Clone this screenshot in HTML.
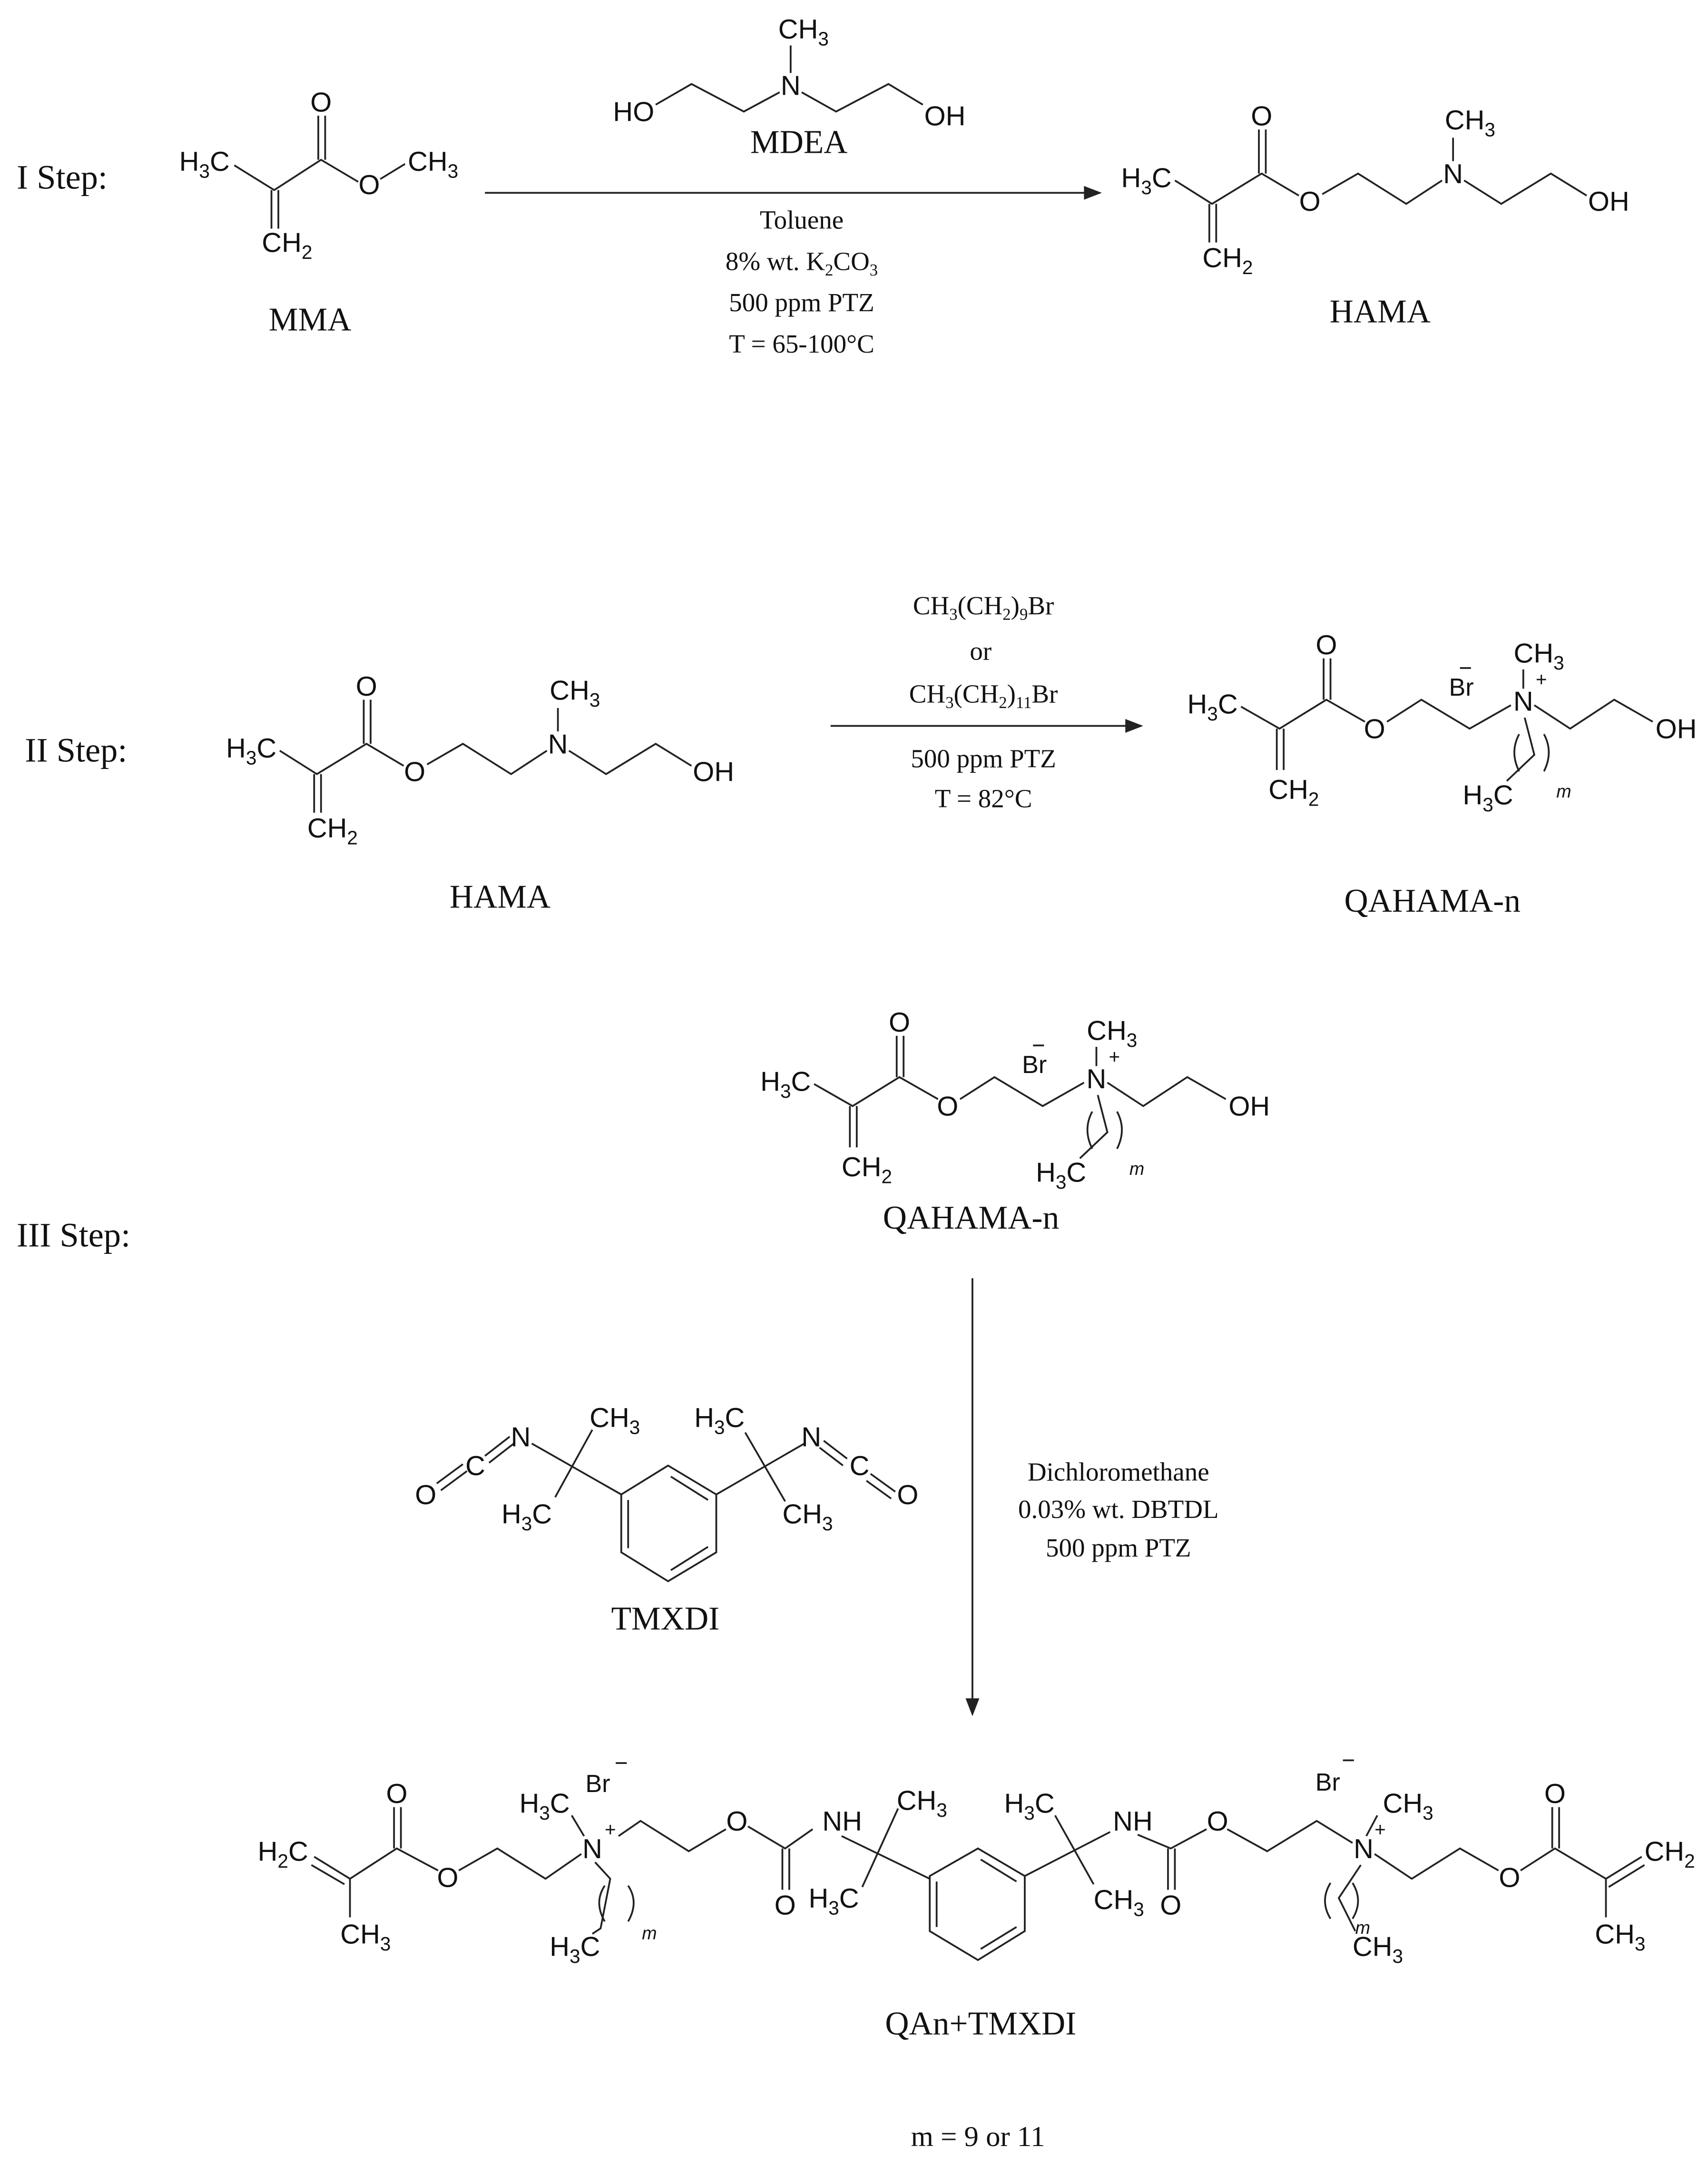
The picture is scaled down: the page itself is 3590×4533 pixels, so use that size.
<!DOCTYPE html>
<html><head><meta charset="utf-8"><style>
html,body{margin:0;padding:0;background:#fff;}
svg{display:block;}
.a{font-family:"Liberation Sans",Arial,sans-serif;font-size:20px;fill:#111;}
.s{font-family:"Liberation Serif","Times New Roman",serif;fill:#111;}
.m{font-size:13px;font-style:italic;}
.br{font-size:18px;}
.pl{font-size:14px;}
line,polyline,path{stroke:#222;stroke-width:1.3;fill:none;}
path.ah{fill:#222;stroke:none;}
</style></head><body>
<svg width="3590" height="4533" viewBox="0 0 1240 1566" xmlns="http://www.w3.org/2000/svg">
<rect width="1240" height="1566" fill="#fff"/>

<!-- ===== STEP I ===== -->
<text class="s" x="12" y="137" font-size="25">I Step:</text>
<g>
<text class="a" x="130" y="124">H<tspan font-size="14" dy="5">3</tspan><tspan dy="-5">C</tspan></text>
<polyline points="170,120 199,138 233,116 260,132"/>
<line x1="231" y1="116" x2="231" y2="84"/><line x1="236" y1="116" x2="236" y2="84"/>
<text class="a" x="233" y="81" text-anchor="middle">O</text>
<text class="a" x="268" y="141" text-anchor="middle">O</text>
<line x1="276" y1="130" x2="294" y2="119"/>
<text class="a" x="296" y="124">CH<tspan font-size="14" dy="5">3</tspan></text>
<line x1="197" y1="138" x2="197" y2="166"/><line x1="202" y1="138" x2="202" y2="166"/>
<text class="a" x="190" y="183">CH<tspan font-size="14" dy="5">2</tspan></text>
<text class="s" x="225" y="240" font-size="24" text-anchor="middle">MMA</text>
</g>
<g>
<text class="a" x="445" y="88">HO</text>
<polyline points="476,76 502,61 540,81 566,67"/>
<text class="a" x="574" y="69" text-anchor="middle">N</text>
<line x1="574" y1="53" x2="574" y2="33"/>
<text class="a" x="565" y="28">CH<tspan font-size="14" dy="5">3</tspan></text>
<polyline points="582,67 607,81 645,61 670,76"/>
<text class="a" x="671" y="91">OH</text>
<text class="s" x="580" y="111" font-size="24" text-anchor="middle">MDEA</text>
</g>
<line x1="352" y1="140" x2="792" y2="140"/>
<path class="ah" d="M800,140 L787,135 L787,145 Z"/>
<g class="s" font-size="19" text-anchor="middle">
<text x="582" y="166">Toluene</text>
<text x="582" y="196">8% wt. K<tspan font-size="12" dy="4">2</tspan><tspan dy="-4">CO</tspan><tspan font-size="12" dy="4">3</tspan></text>
<text x="582" y="226">500 ppm PTZ</text>
<text x="582" y="256">T = 65-100°C</text>
</g>
<g>
<text class="a" x="814" y="136">H<tspan font-size="14" dy="5">3</tspan><tspan dy="-5">C</tspan></text>
<polyline points="853,131 880,148 916,126 943,142"/>
<line x1="914" y1="126" x2="914" y2="94"/><line x1="919" y1="126" x2="919" y2="94"/>
<text class="a" x="916" y="91" text-anchor="middle">O</text>
<text class="a" x="951" y="153" text-anchor="middle">O</text>
<polyline points="960,141 986,126 1021,148 1047,131"/>
<text class="a" x="1055" y="133" text-anchor="middle">N</text>
<line x1="1055" y1="117" x2="1055" y2="100"/>
<text class="a" x="1049" y="94">CH<tspan font-size="14" dy="5">3</tspan></text>
<polyline points="1063,131 1090,148 1126,126 1152,142"/>
<text class="a" x="1153" y="153">OH</text>
<line x1="878" y1="148" x2="878" y2="176"/><line x1="883" y1="148" x2="883" y2="176"/>
<text class="a" x="873" y="194">CH<tspan font-size="14" dy="5">2</tspan></text>
</g>
<text class="s" x="1002" y="234" font-size="24" text-anchor="middle">HAMA</text>

<!-- ===== STEP II ===== -->
<text class="s" x="18" y="553" font-size="25">II Step:</text>
<g transform="translate(-650,414)">
<text class="a" x="814" y="136">H<tspan font-size="14" dy="5">3</tspan><tspan dy="-5">C</tspan></text>
<polyline points="853,131 880,148 916,126 943,142"/>
<line x1="914" y1="126" x2="914" y2="94"/><line x1="919" y1="126" x2="919" y2="94"/>
<text class="a" x="916" y="91" text-anchor="middle">O</text>
<text class="a" x="951" y="153" text-anchor="middle">O</text>
<polyline points="960,141 986,126 1021,148 1047,131"/>
<text class="a" x="1055" y="133" text-anchor="middle">N</text>
<line x1="1055" y1="117" x2="1055" y2="100"/>
<text class="a" x="1049" y="94">CH<tspan font-size="14" dy="5">3</tspan></text>
<polyline points="1063,131 1090,148 1126,126 1152,142"/>
<text class="a" x="1153" y="153">OH</text>
<line x1="878" y1="148" x2="878" y2="176"/><line x1="883" y1="148" x2="883" y2="176"/>
<text class="a" x="873" y="194">CH<tspan font-size="14" dy="5">2</tspan></text>
</g>
<text class="s" x="363" y="659" font-size="24" text-anchor="middle">HAMA</text>

<g class="s" font-size="19" text-anchor="middle">
<text x="714" y="446">CH<tspan font-size="12" dy="4">3</tspan><tspan dy="-4">(CH</tspan><tspan font-size="12" dy="4">2</tspan><tspan dy="-4">)</tspan><tspan font-size="12" dy="4">9</tspan><tspan dy="-4">Br</tspan></text>
<text x="712" y="479">or</text>
<text x="714" y="510">CH<tspan font-size="12" dy="4">3</tspan><tspan dy="-4">(CH</tspan><tspan font-size="12" dy="4">2</tspan><tspan dy="-4">)</tspan><tspan font-size="12" dy="4">11</tspan><tspan dy="-4">Br</tspan></text>
<text x="714" y="557">500 ppm PTZ</text>
<text x="714" y="586">T = 82°C</text>
</g>
<line x1="603" y1="527" x2="822" y2="527"/>
<path class="ah" d="M830,527 L817,522 L817,532 Z"/>

<g transform="translate(310,-274)">
<text class="a" x="552" y="792">H<tspan font-size="14" dy="5">3</tspan><tspan dy="-5">C</tspan></text>
<polyline points="591,787 619,803 653,782 681,798"/>
<line x1="651" y1="782" x2="651" y2="752"/><line x1="656" y1="782" x2="656" y2="752"/>
<text class="a" x="653" y="749" text-anchor="middle">O</text>
<text class="a" x="688" y="810" text-anchor="middle">O</text>
<polyline points="697,798 722,782 757,803 787,786"/>
<text class="a" x="796" y="790" text-anchor="middle">N</text>
<line x1="796" y1="774" x2="796" y2="760"/>
<text class="a" x="789" y="755">CH<tspan font-size="14" dy="5">3</tspan></text>
<text class="a pl" x="805" y="772">+</text>
<text class="a br" x="742" y="779">Br</text>
<line x1="750" y1="759" x2="758" y2="759"/>
<polyline points="804,786 830,803 862,782 890,798"/>
<text class="a" x="892" y="810">OH</text>
<line x1="617" y1="803" x2="617" y2="833"/><line x1="622" y1="803" x2="622" y2="833"/>
<text class="a" x="611" y="854">CH<tspan font-size="14" dy="5">2</tspan></text>
<polyline points="797,795 804,822 784,841"/>
<path d="M793,807 Q786,820 793,834"/>
<path d="M811,807 Q818,820 811,834"/>
<text class="a m" x="820" y="853">m</text>
<text class="a" x="752" y="858">H<tspan font-size="14" dy="5">3</tspan><tspan dy="-5">C</tspan></text>
</g>
<text class="s" x="1040" y="662" font-size="24" text-anchor="middle">QAHAMA-n</text>

<!-- ===== STEP III ===== -->
<text class="s" x="12" y="905" font-size="25">III Step:</text>
<g>
<text class="a" x="552" y="792">H<tspan font-size="14" dy="5">3</tspan><tspan dy="-5">C</tspan></text>
<polyline points="591,787 619,803 653,782 681,798"/>
<line x1="651" y1="782" x2="651" y2="752"/><line x1="656" y1="782" x2="656" y2="752"/>
<text class="a" x="653" y="749" text-anchor="middle">O</text>
<text class="a" x="688" y="810" text-anchor="middle">O</text>
<polyline points="697,798 722,782 757,803 787,786"/>
<text class="a" x="796" y="790" text-anchor="middle">N</text>
<line x1="796" y1="774" x2="796" y2="760"/>
<text class="a" x="789" y="755">CH<tspan font-size="14" dy="5">3</tspan></text>
<text class="a pl" x="805" y="772">+</text>
<text class="a br" x="742" y="779">Br</text>
<line x1="750" y1="759" x2="758" y2="759"/>
<polyline points="804,786 830,803 862,782 890,798"/>
<text class="a" x="892" y="810">OH</text>
<line x1="617" y1="803" x2="617" y2="833"/><line x1="622" y1="803" x2="622" y2="833"/>
<text class="a" x="611" y="854">CH<tspan font-size="14" dy="5">2</tspan></text>
<polyline points="797,795 804,822 784,841"/>
<path d="M793,807 Q786,820 793,834"/>
<path d="M811,807 Q818,820 811,834"/>
<text class="a m" x="820" y="853">m</text>
<text class="a" x="752" y="858">H<tspan font-size="14" dy="5">3</tspan><tspan dy="-5">C</tspan></text>
</g>
<text class="s" x="705" y="892" font-size="24" text-anchor="middle">QAHAMA-n</text>

<line x1="706" y1="928" x2="706" y2="1238"/>
<path class="ah" d="M706,1246 L701,1233 L711,1233 Z"/>
<g class="s" font-size="19" text-anchor="middle">
<text x="812" y="1075">Dichloromethane</text>
<text x="812" y="1102">0.03% wt. DBTDL</text>
<text x="812" y="1130">500 ppm PTZ</text>
</g>

<!-- TMXDI -->
<g>
<text class="a" x="309" y="1092" text-anchor="middle">O</text>
<line x1="317" y1="1077" x2="336" y2="1063"/><line x1="320" y1="1082" x2="339" y2="1068"/>
<text class="a" x="345" y="1071" text-anchor="middle">C</text>
<line x1="352" y1="1057" x2="370" y2="1043"/><line x1="355" y1="1062" x2="373" y2="1048"/>
<text class="a" x="378" y="1050" text-anchor="middle">N</text>
<line x1="386" y1="1048" x2="451" y2="1085"/>
<line x1="430" y1="1038" x2="403" y2="1087"/>
<text class="a" x="428" y="1036">CH<tspan font-size="14" dy="5">3</tspan></text>
<text class="a" x="364" y="1106">H<tspan font-size="14" dy="5">3</tspan><tspan dy="-5">C</tspan></text>
<polygon points="451,1085 485,1064 520,1085 520,1127 485,1148 451,1127" fill="none" stroke="#222" stroke-width="1.3"/>
<line x1="487" y1="1072" x2="514" y2="1089"/>
<line x1="456" y1="1089" x2="456" y2="1124"/>
<line x1="514" y1="1123" x2="487" y2="1140"/>
<line x1="520" y1="1085" x2="584" y2="1048"/>
<line x1="541" y1="1040" x2="570" y2="1090"/>
<text class="a" x="504" y="1036">H<tspan font-size="14" dy="5">3</tspan><tspan dy="-5">C</tspan></text>
<text class="a" x="568" y="1106">CH<tspan font-size="14" dy="5">3</tspan></text>
<text class="a" x="589" y="1050" text-anchor="middle">N</text>
<line x1="598" y1="1046" x2="615" y2="1059"/><line x1="595" y1="1051" x2="612" y2="1064"/>
<text class="a" x="624" y="1071" text-anchor="middle">C</text>
<line x1="632" y1="1070" x2="650" y2="1083"/><line x1="629" y1="1075" x2="647" y2="1088"/>
<text class="a" x="659" y="1092" text-anchor="middle">O</text>
</g>
<text class="s" x="483" y="1183" font-size="24" text-anchor="middle">TMXDI</text>

<!-- ===== FINAL PRODUCT ===== -->
<g>
<text class="a" x="187" y="1351">H<tspan font-size="14" dy="5">2</tspan><tspan dy="-5">C</tspan></text>
<line x1="228" y1="1348" x2="254" y2="1364"/><line x1="226" y1="1354" x2="250" y2="1368"/>
<line x1="254" y1="1364" x2="254" y2="1392"/>
<text class="a" x="247" y="1411">CH<tspan font-size="14" dy="5">3</tspan></text>
<polyline points="254,1364 288,1342 318,1358"/>
<line x1="286" y1="1342" x2="286" y2="1312"/><line x1="291" y1="1342" x2="291" y2="1312"/>
<text class="a" x="288" y="1309" text-anchor="middle">O</text>
<text class="a" x="325" y="1370" text-anchor="middle">O</text>
<polyline points="333,1358 361,1342 396,1364 422,1346"/>
<text class="a" x="430" y="1349" text-anchor="middle">N</text>
<text class="a" x="377" y="1316">H<tspan font-size="14" dy="5">3</tspan><tspan dy="-5">C</tspan></text>
<line x1="415" y1="1318" x2="424" y2="1333"/>
<text class="a br" x="425" y="1301">Br</text>
<line x1="447" y1="1280" x2="455" y2="1280"/>
<text class="a pl" x="439" y="1333">+</text>
<polyline points="449,1333 465,1322 500,1344 527,1328"/>
<text class="a" x="535" y="1329" text-anchor="middle">O</text>
<polyline points="543,1326 570,1342 590,1328"/>
<line x1="568" y1="1342" x2="568" y2="1372"/><line x1="573" y1="1342" x2="573" y2="1372"/>
<text class="a" x="570" y="1390" text-anchor="middle">O</text>
<text class="a" x="597" y="1329">NH</text>
<line x1="611" y1="1333" x2="675" y2="1364"/>
<line x1="652" y1="1313" x2="626" y2="1370"/>
<text class="a" x="651" y="1314">CH<tspan font-size="14" dy="5">3</tspan></text>
<text class="a" x="587" y="1385">H<tspan font-size="14" dy="5">3</tspan><tspan dy="-5">C</tspan></text>
<polyline points="432,1352 443,1364 436,1400 430,1404"/>
<path d="M439,1369 Q431,1381 439,1395"/>
<path d="M456,1369 Q464,1381 456,1395"/>
<text class="a m" x="466" y="1408">m</text>
<text class="a" x="399" y="1420">H<tspan font-size="14" dy="5">3</tspan><tspan dy="-5">C</tspan></text>

<polygon points="675,1362 710,1342 744,1362 744,1402 710,1423 675,1402" fill="none" stroke="#222" stroke-width="1.3"/>
<line x1="712" y1="1350" x2="738" y2="1366"/>
<line x1="680" y1="1366" x2="680" y2="1399"/>
<line x1="738" y1="1399" x2="712" y2="1415"/>
<line x1="744" y1="1362" x2="806" y2="1330"/>
<line x1="766" y1="1318" x2="794" y2="1368"/>
<text class="a" x="729" y="1316">H<tspan font-size="14" dy="5">3</tspan><tspan dy="-5">C</tspan></text>
<text class="a" x="794" y="1386">CH<tspan font-size="14" dy="5">3</tspan></text>
<text class="a" x="808" y="1329">NH</text>
<polyline points="826,1332 850,1342 876,1328"/>
<line x1="848" y1="1342" x2="848" y2="1372"/><line x1="853" y1="1342" x2="853" y2="1372"/>
<text class="a" x="850" y="1390" text-anchor="middle">O</text>
<text class="a" x="884" y="1329" text-anchor="middle">O</text>
<polyline points="891,1328 920,1344 956,1322 982,1338"/>
<text class="a" x="990" y="1349" text-anchor="middle">N</text>
<text class="a pl" x="998" y="1333">+</text>
<line x1="992" y1="1333" x2="1000" y2="1318"/>
<text class="a" x="1004" y="1316">CH<tspan font-size="14" dy="5">3</tspan></text>
<text class="a br" x="955" y="1300">Br</text>
<line x1="975" y1="1278" x2="983" y2="1278"/>
<polyline points="998,1346 1025,1364 1060,1342 1088,1358"/>
<text class="a" x="1096" y="1370" text-anchor="middle">O</text>
<polyline points="1104,1358 1129,1342 1166,1364"/>
<line x1="1127" y1="1342" x2="1127" y2="1312"/><line x1="1132" y1="1342" x2="1132" y2="1312"/>
<text class="a" x="1129" y="1309" text-anchor="middle">O</text>
<line x1="1166" y1="1364" x2="1192" y2="1348"/><line x1="1168" y1="1370" x2="1194" y2="1354"/>
<text class="a" x="1194" y="1351">CH<tspan font-size="14" dy="5">2</tspan></text>
<line x1="1166" y1="1364" x2="1166" y2="1392"/>
<text class="a" x="1158" y="1411">CH<tspan font-size="14" dy="5">3</tspan></text>
<polyline points="988,1354 972,1378 984,1402"/>
<path d="M966,1367 Q958,1380 966,1393"/>
<path d="M982,1367 Q990,1380 982,1393"/>
<text class="a m" x="984" y="1404">m</text>
<text class="a" x="982" y="1420">CH<tspan font-size="14" dy="5">3</tspan></text>
</g>
<text class="s" x="712" y="1477" font-size="24" text-anchor="middle">QAn+TMXDI</text>
<text class="s" x="710" y="1558" font-size="21" text-anchor="middle">m = 9 or 11</text>
</svg>
</body></html>
